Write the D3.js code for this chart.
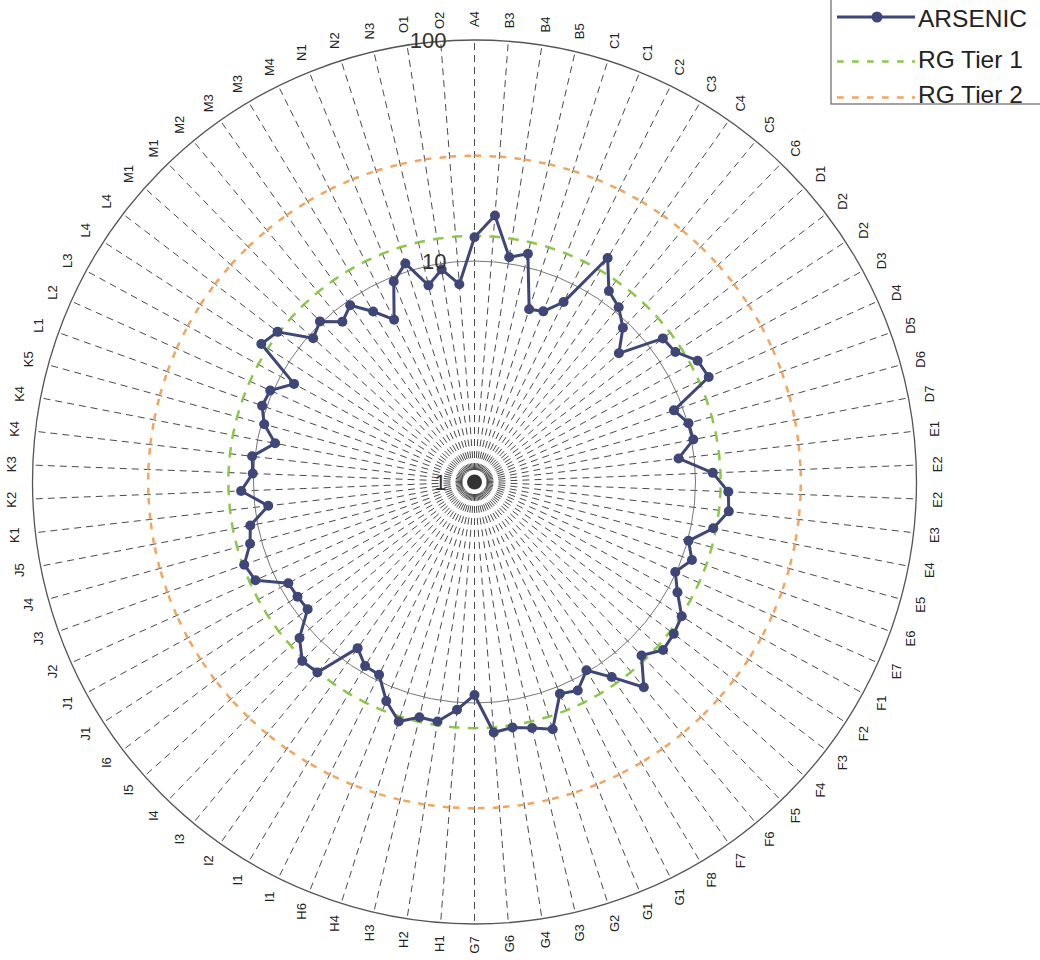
<!DOCTYPE html>
<html>
<head>
<meta charset="utf-8">
<script src="https://cdn.jsdelivr.net/npm/d3@7/dist/d3.min.js"></script>
<style>
  html, body { margin: 0; padding: 0; background: #fff; }
  svg { display: block; font-family: "Liberation Sans", Arial, Helvetica, sans-serif; }
</style>
</head>
<body>
<svg id="chart" width="1040" height="960"></svg>
<script>
// Sampling stations, clockwise from the top
const stations = [
  "A4","B3","B4","B5","C1","C1","C2","C3","C4","C5","C6","D1","D2","D2","D3","D4","D5","D6","D7",
  "E1","E2","E2","E3","E4","E5","E6","E7","F1","F2","F3","F4","F5","F6","F7","F8",
  "G1","G1","G2","G3","G4","G6","G7","H1","H2","H3","H4","H6",
  "I1","I1","I2","I3","I4","I5","I6","J1","J1","J2","J3","J4","J5",
  "K1","K2","K3","K4","K4","K5","L1","L2","L3","L4","L4",
  "M1","M1","M2","M3","M3","M4","N1","N2","N3","O1","O2"
];

// Arsenic concentration at each station
const arsenic = [
  12.8,16.2,10.7,11.5,6.6,6.8,8.1,15.1,11.4,10.6,9.3,7.5,11.8,12.1,14.1,14.5,9.1,10.1,10.2,
  8.5,12.0,14.1,14.4,12.6,10.1,11.1,9.9,11.1,13.1,13.6,13.9,12.3,16.0,12.0,9.8,
  11.3,10.8,14.9,13.9,13.3,13.7,9.2,10.8,12.5,12.4,13.7,11.7,
  9.4,9.3,8.3,13.1,13.3,11.5,8.9,9.0,9.1,12.2,12.8,11.3,10.8,
  8.7,11.4,10.1,10.3,8.3,9.7,10.5,10.3,8.5,14.1,13.2,
  9.5,10.2,8.7,9.5,7.9,6.6,9.5,10.9,8.2,9.4,7.9
];

// Remediation guideline levels
const tier1 = 13;
const tier2 = 30;

// Radial axis ticks (log scale)
const radialTicks = [1, 10, 100];

const cx = 474.5, cy = 482, R = 442;
const tier1Color = "#8cc94a", tier2Color = "#f2a55e", seriesColor = "#3f4778";
const guideDash = "6.7,8.3";

const svg = d3.select("#chart");
const g = svg.append("g").attr("transform", `translate(${cx},${cy})`);

const r = d3.scaleLog().domain([1, 100]).range([0, R]);
const angle = d3.scaleLinear().domain([0, stations.length]).range([0, 2 * Math.PI]);
const px = (a, rad) => rad * Math.sin(a);
const py = (a, rad) => -rad * Math.cos(a);

const idx = d3.range(stations.length);

// Dashed spokes
g.append("g").selectAll("line")
  .data(idx)
  .join("line")
  .attr("x1", 0).attr("y1", 0)
  .attr("x2", i => px(angle(i), R))
  .attr("y2", i => py(angle(i), R))
  .attr("stroke", "#4a4a4a")
  .attr("stroke-width", 1)
  .attr("stroke-dasharray", "7,5");

// Centre point with a clear margin round it
g.append("circle").attr("r", 11.5).attr("fill", "#fff");
g.append("circle").attr("r", 7.5).attr("fill", "#333");

// Solid grid circles at 10 and 100
g.append("g").selectAll("circle")
  .data([10, 100])
  .join("circle")
  .attr("r", d => r(d))
  .attr("fill", "none")
  .attr("stroke", d => d === 100 ? "#555" : "#777")
  .attr("stroke-width", d => d === 100 ? 1.3 : 1);

// Guideline series: constant level at every station, joined spoke to spoke,
// the dash pattern starting afresh on each segment
[[tier2, tier2Color], [tier1, tier1Color]].forEach(([v, col]) => {
  g.append("g").selectAll("line")
    .data(idx)
    .join("line")
    .attr("x1", i => px(angle(i), r(v)))
    .attr("y1", i => py(angle(i), r(v)))
    .attr("x2", i => px(angle(i + 1), r(v)))
    .attr("y2", i => py(angle(i + 1), r(v)))
    .attr("stroke", col)
    .attr("stroke-width", 2.5)
    .attr("stroke-dasharray", guideDash);
});

// Arsenic series
g.append("path")
  .datum(idx)
  .attr("d", d3.lineRadial()
    .angle(i => angle(i))
    .radius(i => r(arsenic[i]))
    .curve(d3.curveLinearClosed))
  .attr("fill", "none")
  .attr("stroke", seriesColor)
  .attr("stroke-width", 3)
  .attr("stroke-linejoin", "round");

g.append("g").selectAll("circle")
  .data(idx)
  .join("circle")
  .attr("cx", i => px(angle(i), r(arsenic[i])))
  .attr("cy", i => py(angle(i), r(arsenic[i])))
  .attr("r", 5)
  .attr("fill", seriesColor);

// Station labels, all set vertically
const labelR = R + 21;
g.append("g").selectAll("text")
  .data(idx)
  .join("text")
  .attr("transform", i => `translate(${px(angle(i), labelR)},${py(angle(i), labelR)}) rotate(-90)`)
  .attr("text-anchor", "middle")
  .attr("dominant-baseline", "central")
  .attr("font-size", 13)
  .attr("fill", "#222")
  .text(i => stations[i]);

// Radial tick labels along the top spoke
g.append("g").selectAll("text")
  .data(radialTicks)
  .join("text")
  .attr("x", -28)
  .attr("y", d => -r(d))
  .attr("text-anchor", "end")
  .attr("dominant-baseline", "central")
  .attr("font-size", 22)
  .attr("fill", "#333")
  .text(d => d);

// Legend
const legend = svg.append("g");
legend.append("rect")
  .attr("x", 831).attr("y", -2).attr("width", 230).attr("height", 106)
  .attr("fill", "#fff").attr("stroke", "#666").attr("stroke-width", 1.2);

const legendItems = [
  { name: "ARSENIC", color: seriesColor, dash: null, y: 17, base: 26.5 },
  { name: "RG Tier 1", color: tier1Color, dash: guideDash, y: 61.5, base: 68 },
  { name: "RG Tier 2", color: tier2Color, dash: guideDash, y: 97.5, base: 102.5 }
];
legendItems.forEach(it => {
  legend.append("line")
    .attr("x1", 837).attr("x2", 915)
    .attr("y1", it.y).attr("y2", it.y)
    .attr("stroke", it.color)
    .attr("stroke-width", it.dash ? 2.5 : 3)
    .attr("stroke-dasharray", it.dash);
  if (!it.dash) {
    legend.append("circle").attr("cx", 877).attr("cy", it.y).attr("r", 5.5).attr("fill", it.color);
  }
  legend.append("text")
    .attr("x", 918).attr("y", it.base)
    .attr("font-size", 24.5)
    .attr("fill", "#222")
    .text(it.name);
});
</script>
</body>
</html>
